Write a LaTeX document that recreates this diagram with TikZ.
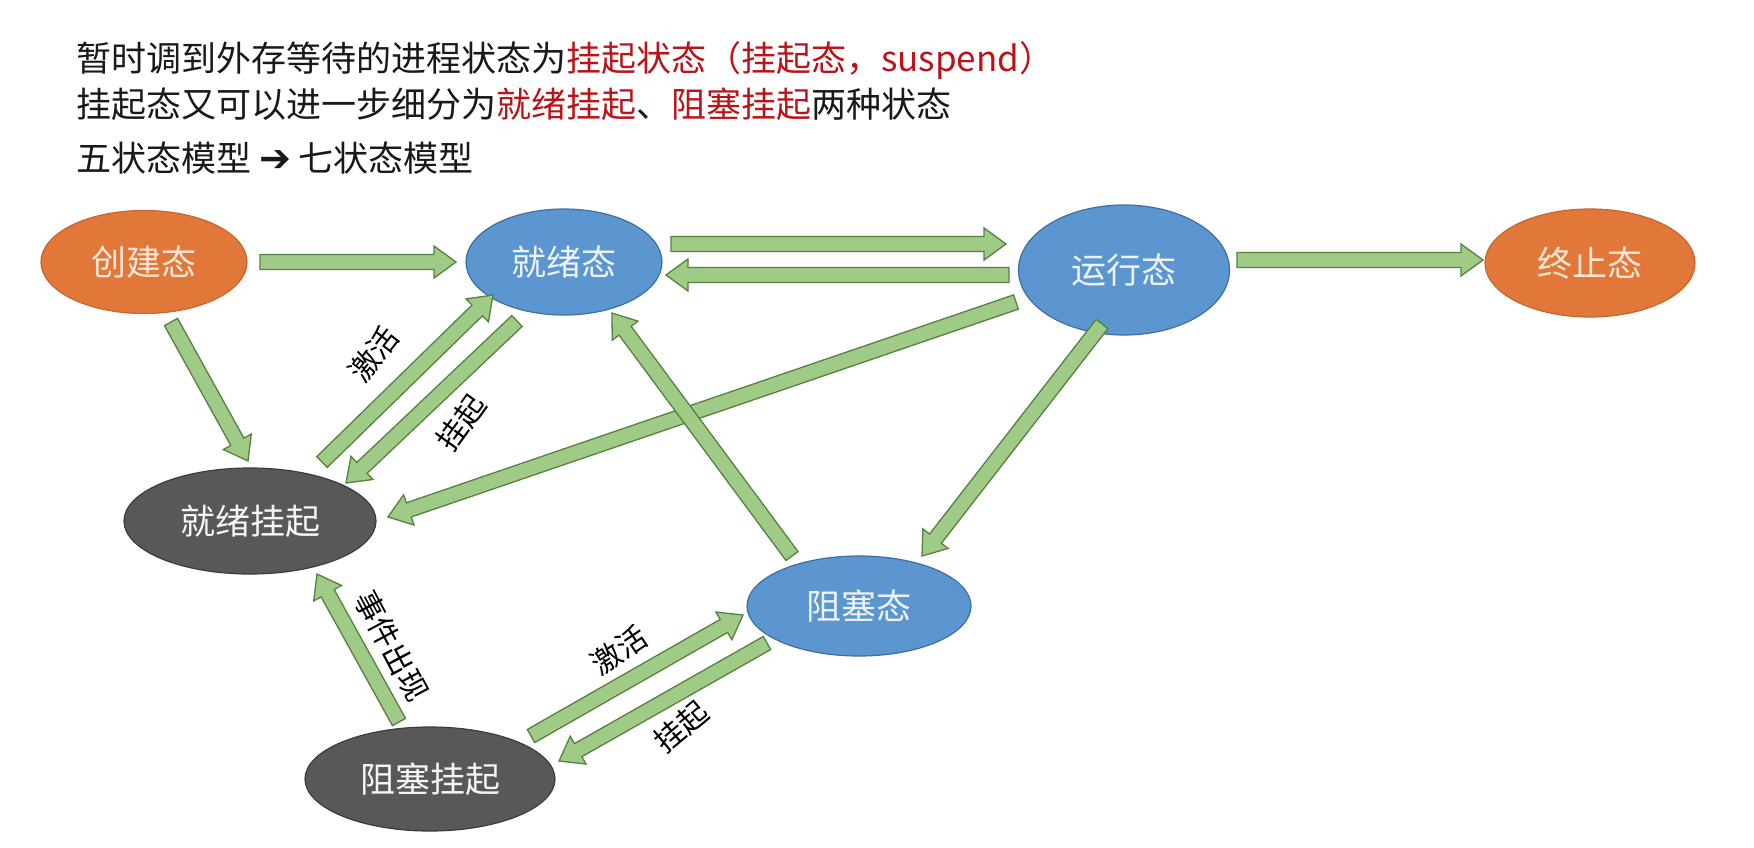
\documentclass[tikz,border=0pt]{standalone}
\usepackage{fontspec}
\setmainfont{Noto Sans CJK SC}
\newfontfamily\dejavu{DejaVu Sans}
\usetikzlibrary{shapes.geometric,calc}
\definecolor{cOrange}{RGB}{225,120,58}
\definecolor{cOrangeD}{RGB}{200,100,45}
\definecolor{cOrangeT}{RGB}{252,230,214}
\definecolor{cBlue}{RGB}{92,150,208}
\definecolor{cBlueD}{RGB}{62,110,160}
\definecolor{cBlueT}{RGB}{236,243,251}
\definecolor{cGrey}{RGB}{88,88,88}
\definecolor{cGreyD}{RGB}{60,60,60}
\definecolor{cGreyT}{RGB}{245,245,245}
\definecolor{cGreen}{RGB}{160,203,135}
\definecolor{cGreenD}{RGB}{85,130,65}
\definecolor{cRed}{RGB}{185,20,25}
\definecolor{cText}{RGB}{25,25,25}
\tikzset{
  stnode/.style={ellipse, inner sep=0pt, line width=1.2, font=\fontsize{35}{35}\selectfont},
  orangest/.style={stnode, fill=cOrange, draw=cOrangeD, text=cOrangeT},
  bluest/.style={stnode, fill=cBlue, draw=cBlueD, text=cBlueT},
  greyst/.style={stnode, fill=cGrey, draw=cGreyD, text=cGreyT},
  barrow/.style={fill=cGreen, draw=cGreenD, line width=1.3, line join=miter},
  lbl/.style={font=\fontsize{30}{30}\selectfont, text=black, inner sep=0pt},
  hdr/.style={font=\fontsize{35}{35}\selectfont, text=cText, inner sep=0pt, anchor=base west},
}
\newcommand\barr[2]{%
  \path (#1) coordinate (bas) (#2) coordinate (bae);
  \path ($(bae)!22pt!(bas)$) coordinate (bab);
  \draw[barrow] ($(bas)!7.5pt!90:(bae)$) -- ($(bab)!7.5pt!90:(bae)$) -- ($(bab)!16pt!90:(bae)$) -- (bae) -- ($(bab)!16pt!-90:(bae)$) -- ($(bab)!7.5pt!-90:(bae)$) -- ($(bas)!7.5pt!-90:(bae)$) -- cycle;}
\begin{document}
\begin{tikzpicture}[x=1pt,y=-1pt]
\fill[white] (0,0) rectangle (1754,847);
\useasboundingbox (0,0) rectangle (1754,847);
% header
\node[hdr] (h1) at (76,71) {暂时调到外存等待的进程状态为\textcolor{cRed}{挂起状态（挂起态，suspend）}};
\node[hdr] (h2) at (76,117) {挂起态又可以进一步细分为\textcolor{cRed}{就绪挂起}、\textcolor{cRed}{阻塞挂起}两种状态};
\node[hdr] (h3) at (76,171) {五状态模型 {\dejavu\bfseries\fontsize{38}{38}\selectfont ➔} 七状态模型};
% states
\node[orangest, minimum width=206, minimum height=103] (cj) at (144,262) {创建态};
\node[bluest, minimum width=196, minimum height=106] (jx) at (564,262) {就绪态};
\node[bluest, minimum width=211, minimum height=130] (yx) at (1124,270) {运行态};
\node[orangest, minimum width=210, minimum height=108] (zz) at (1590,263) {终止态};
\node[greyst, minimum width=252, minimum height=106] (jg) at (250,521) {就绪挂起};
\node[bluest, minimum width=224, minimum height=100] (zs) at (859,606) {阻塞态};
\node[greyst, minimum width=250, minimum height=104] (zg) at (430,779) {阻塞挂起};
% arrows
\barr{[shift={(116,0)}]cj.center}{[shift={(-108,0)}]jx.center}
\barr{[shift={(107,-18)}]jx.center}{[shift={(-118,-26)}]yx.center}
\barr{[shift={(-115,5)}]yx.center}{[shift={(102,13)}]jx.center}
\barr{[shift={(113,-10)}]yx.center}{[shift={(-107,-3)}]zz.center}
\barr{[shift={(27,60)}]cj.center}{[shift={(-2,-60)}]jg.center}
\barr{[shift={(72,-59)}]jg.center}{[shift={(-71,33)}]jx.center}
\barr{[shift={(-47,59)}]jx.center}{[shift={(96,-38)}]jg.center}
\barr{[shift={(-108,32)}]yx.center}{[shift={(138,-4)}]jg.center}
\barr{[shift={(-22,54)}]yx.center}{[shift={(63,-50)}]zs.center}
\barr{[shift={(-67,-50)}]zs.center}{[shift={(48,51)}]jx.center}
\barr{[shift={(-31,-57)}]zg.center}{[shift={(67,53)}]jg.center}
\barr{[shift={(101,-43)}]zg.center}{[shift={(-116,9)}]zs.center}
\barr{[shift={(-92,37)}]zs.center}{[shift={(129,-18)}]zg.center}
% labels
\node[lbl, rotate=52] (l1) at (374,354) {激活};
\node[lbl, rotate=54] (l2) at (461,423) {挂起};
\node[lbl, rotate=-62] (l3) at (392,646) {事件出现};
\node[lbl, rotate=34] (l4) at (619,650) {激活};
\node[lbl, rotate=40] (l5) at (681,727) {挂起};
\end{tikzpicture}
\end{document}
